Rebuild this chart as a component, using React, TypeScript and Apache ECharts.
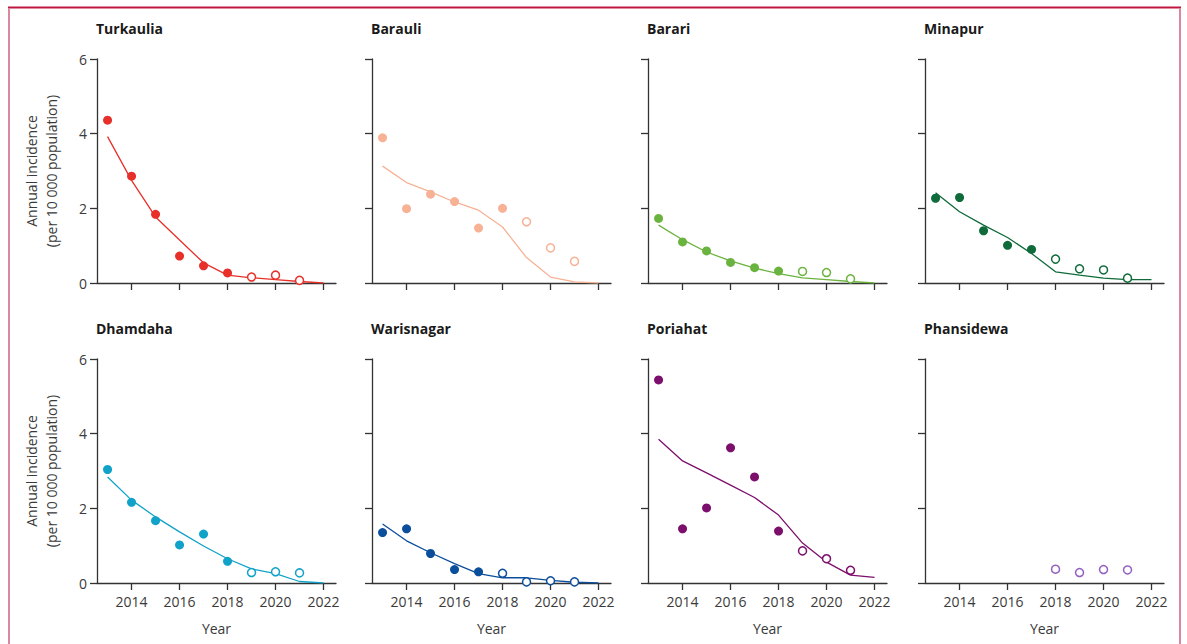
import React, { useEffect, useRef } from "react";
import * as echarts from "echarts";

// ---------- data ----------
const DISTRICTS = ["Turkaulia", "Barauli", "Barari", "Minapur", "Dhamdaha", "Warisnagar", "Poriahat", "Phansidewa"];
const COLORS = ["#e8302a", "#f7b295", "#6bb33f", "#0f6b3a", "#10a2c8", "#0b4e9b", "#7c0e6c", "#9360c2"];

const FIT_YEARS = [2013, 2014, 2015, 2016, 2017, 2018, 2019, 2020, 2021, 2022];
const X_TICKS = [2014, 2016, 2018, 2020, 2022];

// observed (filled) annual incidence starting 2013
const TURKAULIA_OBS = [4.36, 2.86, 1.84, 0.72, 0.46, 0.27];
const BARAULI_OBS = [3.89, 1.99, 2.38, 2.18, 1.47, 2.0];
const BARARI_OBS = [1.73, 1.1, 0.86, 0.55, 0.41, 0.32];
const MINAPUR_OBS = [2.27, 2.29, 1.4, 1.01, 0.9];
const DHAMDAHA_OBS = [3.04, 2.16, 1.67, 1.02, 1.31, 0.58];
const WARISNAGAR_OBS = [1.35, 1.45, 0.79, 0.36, 0.3];
const PORIAHAT_OBS = [5.44, 1.45, 2.01, 3.62, 2.84, 1.39];
const PHANSIDEWA_OBS: number[] = [];

// later (open-circle) values, starting at OPEN_START year
const OPEN_START = [2019, 2019, 2019, 2018, 2019, 2018, 2019, 2018];
const TURKAULIA_OPEN = [0.16, 0.21, 0.07];
const BARAULI_OPEN = [1.64, 0.94, 0.58];
const BARARI_OPEN = [0.31, 0.28, 0.11];
const MINAPUR_OPEN = [0.64, 0.38, 0.35, 0.13];
const DHAMDAHA_OPEN = [0.28, 0.3, 0.27];
const WARISNAGAR_OPEN = [0.26, 0.03, 0.06, 0.03];
const PORIAHAT_OPEN = [0.86, 0.65, 0.34];
const PHANSIDEWA_OPEN = [0.37, 0.28, 0.36, 0.35];

// fitted curves 2013–2022
const TURKAULIA_FIT = [3.92, 2.75, 1.77, 1.15, 0.54, 0.21, 0.14, 0.09, 0.04, 0.0];
const BARAULI_FIT = [3.13, 2.69, 2.44, 2.17, 1.95, 1.5, 0.68, 0.16, 0.03, 0.0];
const BARARI_FIT = [1.55, 1.16, 0.83, 0.59, 0.4, 0.25, 0.14, 0.09, 0.04, 0.0];
const MINAPUR_FIT = [2.42, 1.91, 1.55, 1.22, 0.79, 0.3, 0.21, 0.13, 0.09, 0.09];
const DHAMDAHA_FIT = [2.84, 2.22, 1.77, 1.37, 0.99, 0.65, 0.38, 0.25, 0.04, 0.0];
const WARISNAGAR_FIT = [1.58, 1.13, 0.81, 0.52, 0.25, 0.14, 0.14, 0.07, 0.02, 0.0];
const PORIAHAT_FIT = [3.85, 3.27, 2.95, 2.62, 2.29, 1.82, 1.07, 0.56, 0.21, 0.15];
const PHANSIDEWA_FIT: (number | null)[] = [];

const OBS = [TURKAULIA_OBS, BARAULI_OBS, BARARI_OBS, MINAPUR_OBS, DHAMDAHA_OBS, WARISNAGAR_OBS, PORIAHAT_OBS, PHANSIDEWA_OBS];
const OPEN = [TURKAULIA_OPEN, BARAULI_OPEN, BARARI_OPEN, MINAPUR_OPEN, DHAMDAHA_OPEN, WARISNAGAR_OPEN, PORIAHAT_OPEN, PHANSIDEWA_OPEN];
const FIT = [TURKAULIA_FIT, BARAULI_FIT, BARARI_FIT, MINAPUR_FIT, DHAMDAHA_FIT, WARISNAGAR_FIT, PORIAHAT_FIT, PHANSIDEWA_FIT];

const Y_NAME = "Annual incidence\n(per 10 000 population)";
const X_NAME = "Year";

// ---------- layout ----------
const COL_LEFT = [97, 372, 648, 925];
const ROW_TOP = [59, 359];
const GRID_W = 239;
const GRID_H = 224;
const X_MIN = 2012.56;
const X_MAX = 2022.52;
const FONT = "'Open Sans', 'Noto Sans', sans-serif";
const AXIS_COLOR = "#333333";
const TEXT_COLOR = "#3a3a3a";

export default function App() {
  const ref = useRef<HTMLDivElement>(null);

  useEffect(() => {
    if (!ref.current) return;
    const chart = echarts.init(ref.current, null, { renderer: "svg" });

    const grids: any[] = [];
    const xAxes: any[] = [];
    const yAxes: any[] = [];
    const titles: any[] = [];
    const series: any[] = [];

    DISTRICTS.forEach((name, i) => {
      const col = i % 4;
      const row = Math.floor(i / 4);
      grids.push({ left: COL_LEFT[col], top: ROW_TOP[row], width: GRID_W, height: GRID_H, containLabel: false });
      titles.push({
        text: name,
        left: COL_LEFT[col] - 1,
        top: ROW_TOP[row] - 38,
        padding: 0,
        textStyle: { fontFamily: FONT, fontSize: 14, fontWeight: "bold", color: "#1a1a1a" },
      });
      xAxes.push({
        type: "value",
        gridIndex: i,
        min: X_MIN,
        max: X_MAX,
        name: row === 1 ? X_NAME : "",
        nameLocation: "middle",
        nameGap: 38,
        nameTextStyle: { fontFamily: FONT, fontSize: 14, color: TEXT_COLOR },
        axisLine: { show: true, lineStyle: { color: AXIS_COLOR, width: 1.3 } },
        axisTick: { show: true, length: 7, lineStyle: { color: AXIS_COLOR, width: 1.3 }, customValues: X_TICKS },
        axisLabel: {
          show: row === 1,
          customValues: X_TICKS,
          margin: 11,
          fontFamily: FONT,
          fontSize: 14,
          color: TEXT_COLOR,
          formatter: (v: number) => String(Math.round(v)),
        },
        splitLine: { show: false },
      });
      yAxes.push({
        type: "value",
        gridIndex: i,
        min: 0,
        max: 6,
        interval: 2,
        name: col === 0 ? Y_NAME : "",
        nameLocation: "middle",
        nameGap: 36,
        nameTextStyle: { fontFamily: FONT, fontSize: 14, color: TEXT_COLOR, lineHeight: 20 },
        axisLine: { show: true, lineStyle: { color: AXIS_COLOR, width: 1.3 } },
        axisTick: { show: true, length: 7, lineStyle: { color: AXIS_COLOR, width: 1.3 } },
        axisLabel: { show: col === 0, margin: 10, fontFamily: FONT, fontSize: 14, color: TEXT_COLOR },
        splitLine: { show: false },
      });

      const color = COLORS[i];
      if (FIT[i].length) {
        series.push({
          type: "line",
          xAxisIndex: i,
          yAxisIndex: i,
          data: FIT[i].map((v, k) => [FIT_YEARS[k], v]),
          showSymbol: false,
          symbol: "none",
          lineStyle: { color, width: 1.3 },
          z: 2,
        });
      }
      if (OBS[i].length) {
        series.push({
          type: "scatter",
          xAxisIndex: i,
          yAxisIndex: i,
          data: OBS[i].map((v, k) => [2013 + k, v]),
          symbol: "circle",
          symbolSize: 9,
          itemStyle: { color, opacity: 1 },
          z: 3,
        });
      }
      series.push({
        type: "scatter",
        xAxisIndex: i,
        yAxisIndex: i,
        data: OPEN[i].map((v, k) => [OPEN_START[i] + k, v]),
        symbol: "circle",
        symbolSize: 8,
        itemStyle: { color: "#ffffff", borderColor: color, borderWidth: 1.5, opacity: 1 },
        z: 3,
      });
    });

    chart.setOption({
      animation: false,
      backgroundColor: "#ffffff",
      title: titles,
      grid: grids,
      xAxis: xAxes,
      yAxis: yAxes,
      series,
      graphic: [
        { type: "line", shape: { x1: 8, y1: 7.5, x2: 1181, y2: 7.5 }, style: { stroke: "#c0163f", lineWidth: 2 } },
        { type: "line", shape: { x1: 9, y1: 8, x2: 9, y2: 644 }, style: { stroke: "#d9889f", lineWidth: 2 } },
        { type: "line", shape: { x1: 1180, y1: 8, x2: 1180, y2: 644 }, style: { stroke: "#d9889f", lineWidth: 2 } },
      ],
    });

    return () => chart.dispose();
  }, []);

  return <div ref={ref} style={{ position: "absolute", left: 0, top: 0, width: 1187, height: 644 }} />;
}
